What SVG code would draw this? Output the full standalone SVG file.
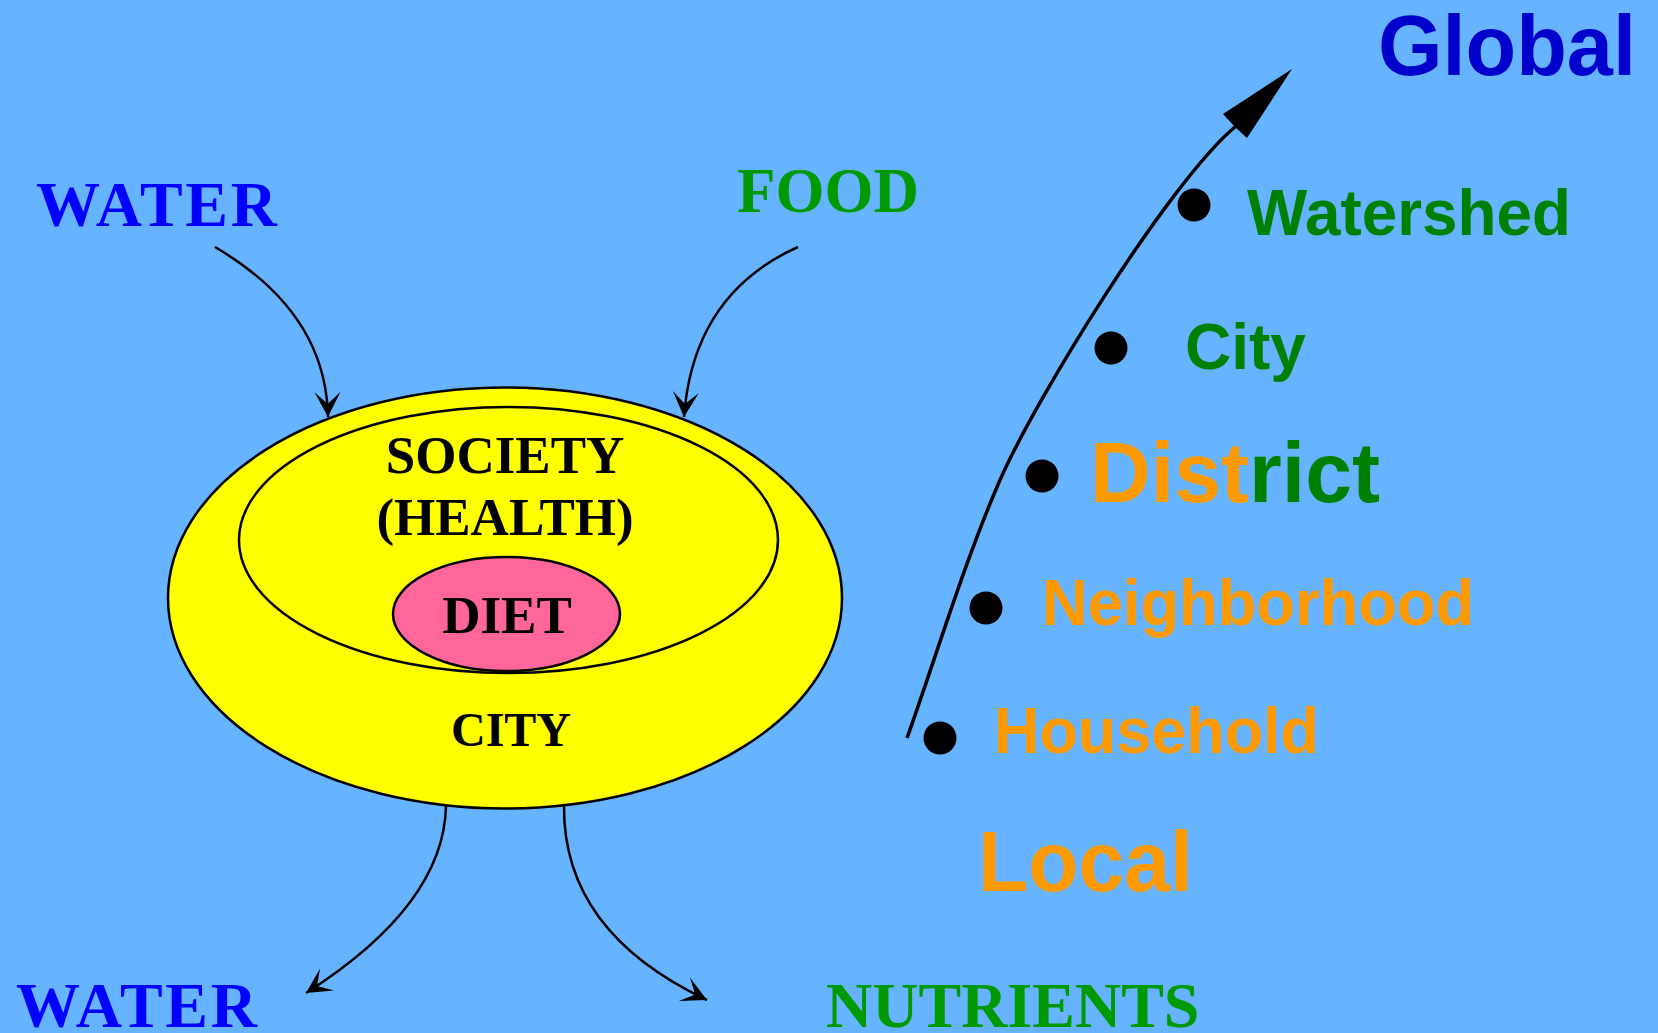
<svg xmlns="http://www.w3.org/2000/svg" width="1658" height="1033" viewBox="0 0 1658 1033">
<style>
.serif{font-family:"Liberation Serif","Times New Roman",serif;font-weight:bold}
.sans{font-family:"Liberation Sans",Arial,sans-serif;font-weight:bold}
.shape{stroke:#000;stroke-width:2.5}
.conn{fill:none;stroke:#000;stroke-width:2.5}
.blue{fill:#0000FF}
.green{fill:#009900}
.dgreen{fill:#008000}
.orange{fill:#FF9900}
.dot{fill:#000}
</style>
<defs>
<marker id="barb" markerUnits="userSpaceOnUse" markerWidth="30" markerHeight="30" viewBox="-26 -15 30 30" refX="0" refY="0" orient="auto">
<path d="M0,0 L-25,-13 L-13,0 L-25,13 Z" fill="#000"/>
</marker>
</defs>
<rect x="0" y="0" width="1658" height="1033" fill="#66B3FF"/>

<g id="city-outer">
<ellipse class="shape" cx="505" cy="598" rx="337" ry="210.5" fill="#FFFF00"/>
<text class="serif" x="511" y="746" font-size="48" text-anchor="middle" fill="#000">CITY</text>
</g>
<g id="society">
<ellipse class="shape" cx="508.5" cy="540" rx="269.5" ry="133" fill="#FFFF00"/>
<text class="serif" x="505" y="473" font-size="53" text-anchor="middle" fill="#000">SOCIETY</text>
<text class="serif" x="505" y="535" font-size="53" text-anchor="middle" fill="#000">(HEALTH)</text>
</g>
<g id="diet">
<ellipse class="shape" cx="506.5" cy="614" rx="113.5" ry="57" fill="#FF6699"/>
<text class="serif" x="507" y="633" font-size="53" text-anchor="middle" fill="#000">DIET</text>
</g>

<g id="water-in"><text class="serif blue" x="36" y="226" font-size="64" textLength="241" lengthAdjust="spacing">WATER</text></g>
<g id="food-in"><text class="serif green" x="737" y="212" font-size="63">FOOD</text></g>
<g id="water-out"><text class="serif blue" x="16" y="1027" font-size="64" textLength="241" lengthAdjust="spacing">WATER</text></g>
<g id="nutrients-out"><text class="serif green" x="826" y="1027" font-size="64">NUTRIENTS</text></g>

<g id="connectors">
<path class="conn" d="M215,247 Q326,312 328,417" marker-end="url(#barb)"/>
<path class="conn" d="M798,247 Q693,294 684,417" marker-end="url(#barb)"/>
<path class="conn" d="M446,806 Q444,905 306,993" marker-end="url(#barb)"/>
<path class="conn" d="M564,806 Q563,932 707,1000" marker-end="url(#barb)"/>
<path fill="none" stroke="#000" stroke-width="3.5" d="M907,738 C935,660 965,560 1000,480 C1035,400 1168,183 1236,126"/>
<polygon points="1292,69 1223,114 1235,127 1247,138" fill="#000"/>
</g>

<g id="global"><text class="sans" x="1378" y="75" font-size="86" textLength="258" lengthAdjust="spacingAndGlyphs" fill="#0000CC">Global</text></g>
<g id="watershed">
<circle class="dot" cx="1194" cy="205" r="16.5"/>
<text class="sans dgreen" x="1247" y="235" font-size="64" textLength="324" lengthAdjust="spacingAndGlyphs">Watershed</text>
</g>
<g id="city-scale">
<circle class="dot" cx="1111" cy="348" r="16.5"/>
<text class="sans dgreen" x="1185" y="369" font-size="64">City</text>
</g>
<g id="district">
<circle class="dot" cx="1042" cy="476" r="16.5"/>
<text class="sans" x="1090" y="502" font-size="86" textLength="290" lengthAdjust="spacingAndGlyphs"><tspan class="orange">Dist</tspan><tspan class="dgreen">rict</tspan></text>
</g>
<g id="neighborhood">
<circle class="dot" cx="986" cy="608" r="16.5"/>
<text class="sans orange" x="1042" y="625" font-size="64" textLength="432" lengthAdjust="spacingAndGlyphs">Neighborhood</text>
</g>
<g id="household">
<circle class="dot" cx="940" cy="738" r="16.5"/>
<text class="sans orange" x="994" y="753" font-size="64" textLength="325" lengthAdjust="spacingAndGlyphs">Household</text>
</g>
<g id="local"><text class="sans orange" x="978" y="891" font-size="86" textLength="215" lengthAdjust="spacingAndGlyphs">Local</text></g>
</svg>
